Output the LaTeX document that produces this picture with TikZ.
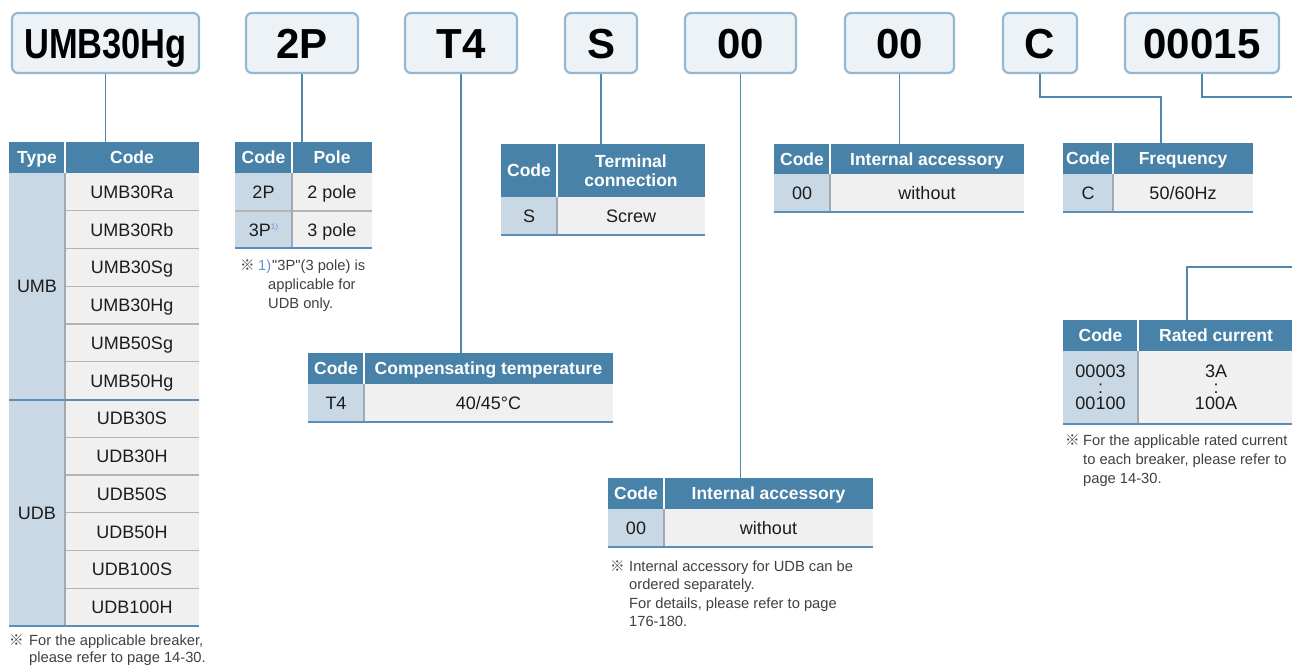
\documentclass[tikz,border=0pt]{standalone}
\usepackage{fontspec}
\setmainfont{Liberation Sans}
\newfontfamily\nomapfnt{Liberation Sans}[Ligatures=TeXOff]
\newfontfamily\cjkfnt{Noto Sans CJK JP}
\definecolor{hdrblue}{RGB}{72,130,168}
\definecolor{codeblue}{RGB}{200,217,229}
\definecolor{cellgray}{RGB}{240,240,240}
\definecolor{rowgray}{RGB}{180,180,180}
\definecolor{divgray}{RGB}{160,170,178}
\definecolor{botblue}{RGB}{90,141,184}
\definecolor{connblue}{RGB}{79,135,174}
\definecolor{boxfill}{RGB}{237,242,247}
\definecolor{boxdraw}{RGB}{148,184,208}
\definecolor{fncol}{RGB}{64,64,64}
\definecolor{txtcol}{RGB}{28,28,28}
\definecolor{noteblue}{RGB}{100,150,200}
\newcommand\topfnt{\fontsize{42}{42}\selectfont\bfseries}
\newcommand\headfnt{\fontsize{17.5}{19}\selectfont\bfseries}
\newcommand\cellfnt{\fontsize{18}{17}\selectfont}
\newcommand\notefnt{\fontsize{14.7}{18}\selectfont}
\newcommand\dq{{\nomapfnt"}}
\begin{document}
\begin{tikzpicture}[x=1pt,y=-1pt,
  topbox/.style={draw=boxdraw,line width=2.2pt,fill=boxfill,rounded corners=6pt,
    minimum height=60,inner sep=0pt,font=\topfnt,text=black,text height=30pt,text depth=0pt},
  hdr/.style={fill=hdrblue,text=white,font=\headfnt,inner sep=0pt,outer sep=0pt,anchor=north west,align=center},
  codec/.style={fill=codeblue,text=txtcol,font=\cellfnt,inner sep=0pt,outer sep=0pt,anchor=north west,align=center},
  cellc/.style={fill=cellgray,text=txtcol,font=\cellfnt,inner sep=0pt,outer sep=0pt,anchor=north west,align=center},
  sl/.style={text height=13pt,text depth=0pt},
  slh/.style={text height=12.5pt,text depth=0pt},
  conn/.style={draw=connblue,line width=1.5pt},
  rowline/.style={draw=rowgray,line width=1.2pt},
  coldiv/.style={draw=divgray,line width=1.4pt},
  hdiv/.style={draw=white,line width=1.4pt},
  botline/.style={draw=botblue,line width=2pt},
  fnote/.style={anchor=base west,inner sep=0pt,font=\notefnt,text=fncol},
  refmk/.style={anchor=base west,inner sep=0pt,font=\cjkfnt\fontsize{14.5}{14.5}\selectfont,text=fncol}
]
\useasboundingbox (0,0) rectangle (1292,665);
\fill[white] (0,0) rectangle (1292,665);
\clip (0,0) rectangle (1292,665);

% ---------- top code boxes ----------
\node[topbox,minimum width=187] (b1) at (105.5,43) {\scalebox{0.82}[1]{UMB30Hg}};
\node[topbox,minimum width=112] (b2) at (302,43) {2P};
\node[topbox,minimum width=112] (b3) at (461,43) {T4};
\node[topbox,minimum width=72]  (b4) at (601,43) {S};
\node[topbox,minimum width=111] (b5) at (740.5,43) {00};
\node[topbox,minimum width=109] (b6) at (899.5,43) {00};
\node[topbox,minimum width=74]  (b7) at (1040,43) {C};
\node[topbox,minimum width=154] (b8) at (1202,43) {00015};

% ---------- Table A : Type / Code ----------
\node[hdr,slh,minimum width=56,minimum height=31]  (A-h1) at (9,142) {Type};
\node[hdr,slh,minimum width=134,minimum height=31] (A-h2) at (65,142) {Code};
\node[codec,sl,minimum width=56,minimum height=226.5] (A-t1) at (9,173) {UMB};
\node[codec,sl,minimum width=56,minimum height=226.5] (A-t2) at (9,399.5) {UDB};
\foreach \t [count=\i from 0] in {UMB30Ra,UMB30Rb,UMB30Sg,UMB30Hg,UMB50Sg,UMB50Hg,UDB30S,UDB30H,UDB50S,UDB50H,UDB100S,UDB100H}
  \node[cellc,sl,minimum width=134,minimum height=37.75] (A-r\i) at (65,{173+37.75*\i}) {\t};
\foreach \i in {1,2,3,4,5,7,8,9,10,11}
  \draw[rowline] (A-r\i.north west) -- (A-r\i.north east);
\draw[coldiv] (A-t1.north east) -- (A-t2.south east);
\draw[hdiv] (A-h1.north east) -- (A-h1.south east);
\draw[botline] (A-t2.north west) -- (A-r6.north east);
\draw[botline] (A-t2.south west) -- (A-r11.south east);
\node[refmk] (A-m) at (9,645) {※};
\node[fnote] (A-f1) at (29,645) {For the applicable breaker,};
\node[fnote] (A-f2) at (29,662) {please refer to page 14-30.};

% ---------- Table B : Code / Pole ----------
\node[hdr,slh,minimum width=57,minimum height=31] (B-h1) at (235,142) {Code};
\node[hdr,slh,minimum width=80,minimum height=31] (B-h2) at (292,142) {Pole};
\node[codec,sl,minimum width=57,minimum height=38] (B-c1) at (235,173) {2P};
\node[cellc,sl,minimum width=80,minimum height=38] (B-d1) at (292,173) {2 pole};
\node[codec,sl,minimum width=57,minimum height=37] (B-c2) at (235,211) {3P{\raisebox{7pt}{\fontsize{8}{8}\selectfont\color{noteblue}1)}}};
\node[cellc,sl,minimum width=80,minimum height=37] (B-d2) at (292,211) {3 pole};
\draw[rowline] (B-c2.north west) -- (B-d2.north east);
\draw[coldiv] (B-c1.north east) -- (B-c2.south east);
\draw[hdiv] (B-h1.north east) -- (B-h1.south east);
\draw[botline] (B-c2.south west) -- (B-d2.south east);
\node[refmk] (B-m) at (240,270) {※};
\node[fnote,text=noteblue] (B-n) at (258,270) {1)};
\node[fnote] (B-f1) at (272,270) {\dq 3P\dq(3 pole) is};
\node[fnote] (B-f2) at (268,289) {applicable for};
\node[fnote] (B-f3) at (268,308) {UDB only.};

% ---------- Table C : Compensating temperature ----------
\node[hdr,slh,minimum width=56,minimum height=31]  (C-h1) at (308,353) {Code};
\node[hdr,slh,minimum width=249,minimum height=31] (C-h2) at (364,353) {Compensating temperature};
\node[codec,sl,minimum width=56,minimum height=38]  (C-c1) at (308,384) {T4};
\node[cellc,sl,minimum width=249,minimum height=38] (C-d1) at (364,384) {40/45°C};
\draw[coldiv] (C-c1.north east) -- (C-c1.south east);
\draw[hdiv] (C-h1.north east) -- (C-h1.south east);
\draw[botline] (C-c1.south west) -- (C-d1.south east);

% ---------- Table D : Terminal connection ----------
\node[hdr,minimum width=56,minimum height=53]  (D-h1) at (501,144) {Code};
\node[hdr,minimum width=148,minimum height=53] (D-h2) at (557,144) {Terminal\\connection};
\node[codec,sl,minimum width=56,minimum height=38]  (D-c1) at (501,197) {S};
\node[cellc,sl,minimum width=148,minimum height=38] (D-d1) at (557,197) {Screw};
\draw[coldiv] (D-c1.north east) -- (D-c1.south east);
\draw[hdiv] (D-h1.north east) -- (D-h1.south east);
\draw[botline] (D-c1.south west) -- (D-d1.south east);

% ---------- Table E : Internal accessory (upper) ----------
\node[hdr,slh,minimum width=56,minimum height=30]  (E-h1) at (774,144) {Code};
\node[hdr,slh,minimum width=194,minimum height=30] (E-h2) at (830,144) {Internal accessory};
\node[codec,sl,minimum width=56,minimum height=38]  (E-c1) at (774,174) {00};
\node[cellc,sl,minimum width=194,minimum height=38] (E-d1) at (830,174) {without};
\draw[coldiv] (E-c1.north east) -- (E-c1.south east);
\draw[hdiv] (E-h1.north east) -- (E-h1.south east);
\draw[botline] (E-c1.south west) -- (E-d1.south east);

% ---------- Table F : Frequency ----------
\node[hdr,slh,minimum width=50,minimum height=31]  (F-h1) at (1063,143) {Code};
\node[hdr,slh,minimum width=140,minimum height=31] (F-h2) at (1113,143) {Frequency};
\node[codec,sl,minimum width=50,minimum height=38]  (F-c1) at (1063,174) {C};
\node[cellc,sl,minimum width=140,minimum height=38] (F-d1) at (1113,174) {50/60Hz};
\draw[coldiv] (F-c1.north east) -- (F-c1.south east);
\draw[hdiv] (F-h1.north east) -- (F-h1.south east);
\draw[botline] (F-c1.south west) -- (F-d1.south east);

% ---------- Table G : Rated current ----------
\node[hdr,slh,minimum width=75,minimum height=31]  (G-h1) at (1063,320) {Code};
\node[hdr,slh,minimum width=156,minimum height=31] (G-h2) at (1138,320) {Rated current};
\node[codec,minimum width=75,minimum height=73]  (G-c1) at (1063,351) {00003\\[-1pt]:\\[-1pt]00100};
\node[cellc,minimum width=156,minimum height=73] (G-d1) at (1138,351) {3A\\[-1pt]:\\[-1pt]100A};
\draw[coldiv] (G-c1.north east) -- (G-c1.south east);
\draw[hdiv] (G-h1.north east) -- (G-h1.south east);
\draw[botline] (G-c1.south west) -- (G-d1.south east);
\node[refmk] (G-m) at (1065,445) {※};
\node[fnote] (G-f1) at (1083,445) {For the applicable rated current};
\node[fnote] (G-f2) at (1083,464) {to each breaker, please refer to};
\node[fnote] (G-f3) at (1083,483) {page 14-30.};

% ---------- Table H : Internal accessory (lower) ----------
\node[hdr,slh,minimum width=56,minimum height=31]  (H-h1) at (608,478) {Code};
\node[hdr,slh,minimum width=209,minimum height=31] (H-h2) at (664,478) {Internal accessory};
\node[codec,sl,minimum width=56,minimum height=38]  (H-c1) at (608,509) {00};
\node[cellc,sl,minimum width=209,minimum height=38] (H-d1) at (664,509) {without};
\draw[coldiv] (H-c1.north east) -- (H-c1.south east);
\draw[hdiv] (H-h1.north east) -- (H-h1.south east);
\draw[botline] (H-c1.south west) -- (H-d1.south east);
\node[refmk] (H-m) at (610,571) {※};
\node[fnote] (H-f1) at (629,571) {Internal accessory for UDB can be};
\node[fnote] (H-f2) at (629,589.5) {ordered separately.};
\node[fnote] (H-f3) at (629,608) {For details, please refer to page};
\node[fnote] (H-f4) at (629,626.5) {176-180.};

% ---------- connectors ----------
\coordinate (Fb) at (1161,97);
\coordinate (Ft) at (1161,143);
\coordinate (Rout) at (1300,97);
\coordinate (Rin) at (1300,267);
\coordinate (Gt) at (1187,320);
\draw[conn] (b1.south) -- (b1.south |- A-h2.north);
\draw[conn] (b2.south) -- (b2.south |- B-h1.north);
\draw[conn] (b3.south) -- (b3.south |- C-h2.north);
\draw[conn] (b4.south) -- (b4.south |- D-h2.north);
\draw[conn] (b5.south) -- (b5.south |- H-h2.north);
\draw[conn] (b6.south) -- (b6.south |- E-h2.north);
\draw[conn] (b7.south) |- (Fb) -- (Ft);
\draw[conn] (b8.south) |- (Rout);
\draw[conn] (Rin) -| (Gt);
\end{tikzpicture}
\end{document}
